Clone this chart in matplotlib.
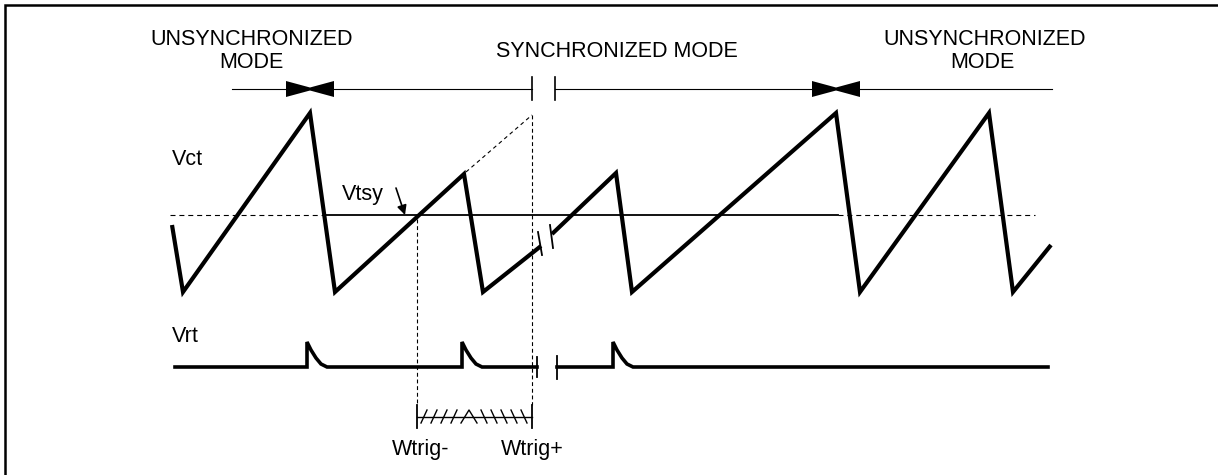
import matplotlib
matplotlib.use("Agg")
import matplotlib.pyplot as plt
from matplotlib.patches import Polygon

plt.rcParams['font.family'] = ['Liberation Sans', 'DejaVu Sans']

# ---- data (diagram coordinates: x = time, y = level, y axis pointing down) ----
# Vct sawtooth, before and after the break
vct_t1 = [172, 183, 310, 335, 464, 483, 541]
vct_v1 = [225, 292, 113, 292, 174, 292, 246]
vct_t2 = [552, 616, 632, 836, 860, 989, 1013, 1051]
vct_v2 = [234, 173, 292, 113, 292, 113, 292, 245]

# dashed extension of the ramp
ext_t = [466, 532]
ext_v = [172, 115]

# Vtsy threshold level
vtsy_level = 215
vtsy_dash_left = [170, 325]
vtsy_solid = [325, 838]
vtsy_dash_right = [838, 1035]

# Vrt pulses
vrt_t1 = [175, 307, 307, 311, 316, 321, 327, 462, 462, 466, 471, 476, 482, 537]
vrt_v1 = [367, 367, 342, 350, 358, 364, 367, 367, 342, 350, 358, 364, 367, 367]
vrt_t2 = [557, 613, 613, 617, 622, 627, 633, 1048]
vrt_v2 = [367, 367, 342, 350, 358, 364, 367, 367]

# mode time line
mode_y = 89
mode_seg1 = [232, 532]
mode_seg2 = [555, 1052]
bowtie_centers = [310, 836]

# window limits
wtrig_minus = 417
wtrig_plus = 532
wtrig_y = 417
hatch_left = [424, 434, 444, 454]
hatch_right = [484, 494, 504, 514, 524]

fig = plt.figure(figsize=(12.18, 4.75), dpi=100)
ax = fig.add_axes([0, 0, 1, 1])
ax.set_xlim(0, 1218)
ax.set_ylim(475, 0)
ax.axis('off')

K = 'black'
fs = 15.5

# frame (left and top edges)
ax.plot([5, 5, 1218], [475, 5, 5], color=K, lw=1.8, solid_joinstyle='miter')

# mode time line
ax.plot(mode_seg1, [mode_y, mode_y], color=K, lw=0.8)
ax.plot(mode_seg2, [mode_y, mode_y], color=K, lw=0.8)
ax.plot([mode_seg1[1]] * 2, [mode_y - 12, mode_y + 11], color=K, lw=1.2)
ax.plot([mode_seg2[0]] * 2, [mode_y - 12, mode_y + 11], color=K, lw=1.2)
for c in bowtie_centers:
    ax.add_patch(Polygon([(c - 24, mode_y - 8), (c - 24, mode_y + 8), (c, mode_y + 1.5),
                          (c + 24, mode_y + 8), (c + 24, mode_y - 8), (c, mode_y - 1.5)],
                         closed=True, color=K, lw=0))

# texts on top
ax.text(252, 45, "UNSYNCHRONIZED", ha='center', va='baseline', fontsize=fs)
ax.text(251, 68, "MODE", ha='center', va='baseline', fontsize=fs)
ax.text(617, 57, "SYNCHRONIZED MODE", ha='center', va='baseline', fontsize=fs)
ax.text(985, 45, "UNSYNCHRONIZED", ha='center', va='baseline', fontsize=fs)
ax.text(982, 68, "MODE", ha='center', va='baseline', fontsize=fs)

# Vtsy level
ax.plot(vtsy_dash_left, [vtsy_level] * 2, color=K, lw=0.8, dashes=(4.5, 3.5))
ax.plot(vtsy_solid, [vtsy_level] * 2, color=K, lw=1.3)
ax.plot(vtsy_dash_right, [vtsy_level] * 2, color=K, lw=0.8, dashes=(4.5, 3.5))

# dashed ramp extension and vertical markers
ax.plot(ext_t, ext_v, color=K, lw=0.8, dashes=(3.5, 3))
ax.plot([wtrig_minus] * 2, [vtsy_level + 4, 405], color=K, lw=0.8, dashes=(3.5, 2.5))
ax.plot([wtrig_plus] * 2, [ext_v[1], 405], color=K, lw=0.8, dashes=(3.5, 2.5))

# Vct waveform
ax.plot(vct_t1, vct_v1, color=K, lw=3.0, solid_joinstyle='miter', solid_capstyle='butt')
ax.plot(vct_t2, vct_v2, color=K, lw=3.0, solid_joinstyle='miter', solid_capstyle='butt')
ax.plot([538, 542], [232, 255], color=K, lw=1.3)
ax.plot([550, 553], [225, 248], color=K, lw=1.3)

# Vrt waveform
ax.plot(vrt_t1, vrt_v1, color=K, lw=2.6, solid_joinstyle='miter')
ax.plot(vrt_t2, vrt_v2, color=K, lw=2.6, solid_joinstyle='miter')
ax.plot([vrt_t1[-1]] * 2, [357, 377], color=K, lw=1.3)
ax.plot([vrt_t2[0]] * 2, [356, 379], color=K, lw=1.3)

# labels
ax.text(172, 165, "Vct", ha='left', va='baseline', fontsize=fs)
ax.text(342, 200, "Vtsy", ha='left', va='baseline', fontsize=fs)
ax.text(172, 342, "Vrt", ha='left', va='baseline', fontsize=fs)
ax.annotate("", xy=(405, 215), xytext=(396, 188),
            arrowprops=dict(arrowstyle='-|>', color=K, lw=1.2, mutation_scale=14,
                            shrinkA=0, shrinkB=0))

# Wtrig window
ax.plot([wtrig_minus, wtrig_plus], [wtrig_y, wtrig_y], color=K, lw=1.0)
ax.plot([wtrig_minus] * 2, [405, 428], color=K, lw=1.3)
ax.plot([wtrig_plus] * 2, [405, 428], color=K, lw=1.3)
for h in hatch_left:
    ax.plot([h - 3, h + 3], [423, 410], color=K, lw=1.0)
for h in hatch_right:
    ax.plot([h - 3, h + 3], [410, 423], color=K, lw=1.0)
ax.plot([461, 469, 477], [423, 410, 423], color=K, lw=1.0)
ax.text(421, 455, "Wtrig-", ha='center', va='baseline', fontsize=fs)
ax.text(532, 455, "Wtrig+", ha='center', va='baseline', fontsize=fs)

fig.savefig("out.png", dpi=100)
